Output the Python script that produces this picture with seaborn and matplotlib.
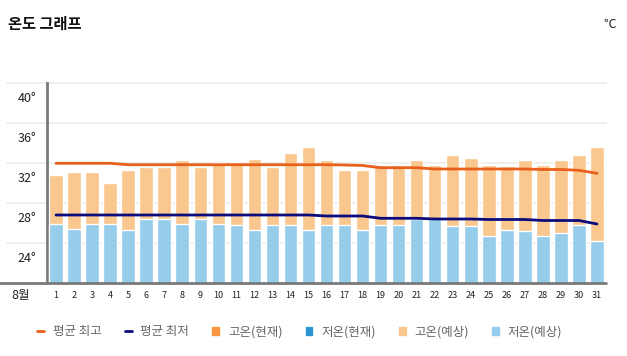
import numpy as np
import pandas as pd
import matplotlib
matplotlib.use("Agg")
import matplotlib.pyplot as plt
import matplotlib.transforms as mtransforms
from matplotlib.lines import Line2D
from matplotlib.patches import Patch
import seaborn as sns

# data (August, daily, degrees C)
days = [str(d) for d in range(1, 32)]
high_forecast = [30.75, 31.05, 31.05, 29.95, 31.25, 31.6, 31.6, 32.25, 31.6, 32.0,
                 32.05, 32.4, 31.6, 32.95, 33.55, 32.25, 31.25, 31.25, 31.75, 31.75,
                 32.25, 31.75, 32.75, 32.5, 31.75, 31.65, 32.25, 31.75, 32.25, 32.75, 33.55]
low_forecast = [25.85, 25.35, 25.85, 25.85, 25.25, 26.4, 26.4, 25.85, 26.4, 25.85,
                25.75, 25.25, 25.75, 25.75, 25.25, 25.75, 25.75, 25.25, 25.75, 25.75,
                26.35, 26.4, 25.65, 25.65, 24.65, 25.25, 25.15, 24.65, 24.95, 25.75, 24.15]
avg_high = [31.92, 31.92, 31.92, 31.92, 31.78, 31.78, 31.78, 31.78, 31.78, 31.78,
            31.78, 31.78, 31.78, 31.78, 31.78, 31.78, 31.75, 31.7, 31.48, 31.48,
            31.48, 31.35, 31.35, 31.35, 31.35, 31.35, 31.35, 31.3, 31.3, 31.22, 30.92]
avg_low = [26.75, 26.75, 26.75, 26.75, 26.75, 26.75, 26.75, 26.75, 26.75, 26.75,
           26.75, 26.75, 26.75, 26.75, 26.75, 26.65, 26.65, 26.65, 26.42, 26.42,
           26.42, 26.35, 26.35, 26.35, 26.3, 26.3, 26.3, 26.2, 26.2, 26.2, 25.85]
y_ticks = [24, 28, 32, 36, 40]
legend_labels = ["평균 최고", "평균 최저", "고온(현재)", "저온(현재)", "고온(예상)", "저온(예상)"]

df = pd.DataFrame({"day": days, "pos": np.arange(len(days)),
                   "high": high_forecast, "low": low_forecast,
                   "avg_high": avg_high, "avg_low": avg_low})

sns.set_theme(style="white")
plt.rcParams["font.family"] = ["Noto Sans CJK KR", "DejaVu Sans"]

c_avg_high = "#e8601c"
c_avg_low = "#0b0b7c"
c_high_now = "#f7963c"
c_low_now = "#2a96d4"
c_high_fc = "#fac78f"
c_low_fc = "#95cdeb"

fig = plt.figure(figsize=(6.27, 3.56), dpi=100)
ax = fig.add_axes([47 / 627, 1 - 282.5 / 356, 559 / 627, 200 / 356])

sns.barplot(data=df, x="day", y="high", color=c_high_fc, width=0.75,
            saturation=1, ax=ax, zorder=2)
sns.barplot(data=df, x="day", y="low", color=c_low_fc, width=0.75,
            saturation=1, ax=ax, zorder=3)
sns.lineplot(data=df, x="pos", y="avg_high", color=c_avg_high, lw=2, ax=ax, zorder=4)
sns.lineplot(data=df, x="pos", y="avg_low", color=c_avg_low, lw=2, ax=ax, zorder=4)

ax.set_ylim(20, 40)
ax.set_xlim(-0.5, len(days) - 0.5)
ax.set_xlabel("")
ax.set_ylabel("")

# grid lines run a little past the left axis, under the labels
for t in y_ticks:
    ax.axhline(t, xmin=-0.0716, xmax=1.0, color="#ececec", lw=1.2,
               clip_on=False, zorder=0)
ax.axhline(20, xmin=-0.084, xmax=1.0, color="#7a7a7a", lw=2,
           clip_on=False, zorder=5)

for s in ["top", "right", "bottom"]:
    ax.spines[s].set_visible(False)
ax.spines["left"].set_color("#7a7a7a")
ax.spines["left"].set_linewidth(2)

ax.set_yticks(y_ticks)
ax.set_yticklabels([f"{t}°" for t in y_ticks], fontsize=9, color="#222222")
ax.tick_params(axis="y", length=0, pad=7.5)
shift = mtransforms.ScaledTranslation(0, -0.15, fig.dpi_scale_trans)
for lab in ax.get_yticklabels():
    lab.set_transform(lab.get_transform() + shift)

ax.tick_params(axis="x", length=0, pad=6, labelsize=6.5, labelcolor="#222222")

ax.text(-0.047, -0.0625, "8월", transform=ax.transAxes, fontsize=9,
        ha="center", va="center", color="#222222")

fig.text(8 / 627, 1 - 24 / 356, "온도 그래프", fontsize=11, fontweight="bold",
         ha="left", va="center", color="#111111")
fig.text(610 / 627, 1 - 24 / 356, "℃", fontsize=9, ha="center", va="center",
         color="#222222")

handles = [
    Line2D([0], [0], color=c_avg_high, lw=2),
    Line2D([0], [0], color=c_avg_low, lw=2),
    Patch(color=c_high_now),
    Patch(color=c_low_now),
    Patch(color=c_high_fc),
    Patch(color=c_low_fc),
]
fig.legend(handles, legend_labels, loc="center", bbox_to_anchor=(0.478, 1 - 332 / 356),
           ncol=6, frameon=False, fontsize=9, labelcolor="#666666",
           handlelength=0.55, handleheight=0.55, handletextpad=0.7, columnspacing=1.85)

fig.savefig("out.png", dpi=100)
